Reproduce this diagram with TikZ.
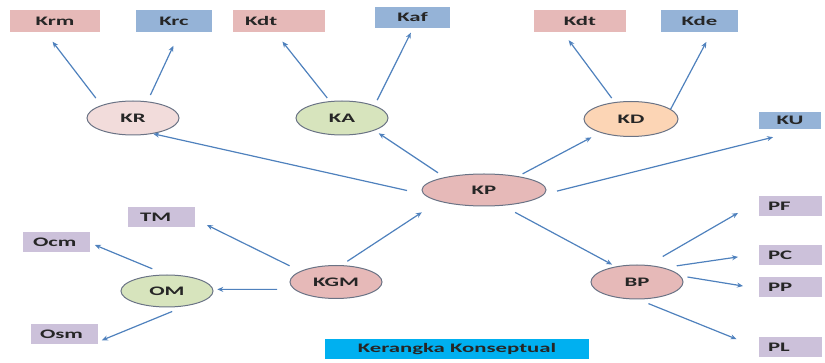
\documentclass[tikz,border=0pt]{standalone}
\usepackage{fontspec}
\setmainfont{Carlito}[FakeStretch=1.75]
\usetikzlibrary{shapes,arrows.meta}

\definecolor{boxpink}{RGB}{230,185,184}
\definecolor{boxblue}{RGB}{149,179,215}
\definecolor{boxlila}{RGB}{204,193,218}
\definecolor{boxcyan}{RGB}{0,176,240}
\definecolor{elpink}{RGB}{242,220,219}
\definecolor{elgreen}{RGB}{215,228,189}
\definecolor{elorange}{RGB}{252,213,181}
\definecolor{elrose}{RGB}{230,185,184}
\definecolor{rim}{RGB}{106,115,133}
\definecolor{arrowblue}{RGB}{79,129,189}

\begin{document}
\begin{tikzpicture}[x=1pt, y=-1pt, font=\fontsize{13}{15}\selectfont\bfseries, text=black!85]
\tikzstyle{el}=[ellipse, draw=rim, line width=1pt, minimum width=92pt, minimum height=34pt, inner sep=0pt]
\tikzstyle{bx}=[rectangle, minimum height=22pt, inner sep=0pt]
\tikzstyle{lbx}=[rectangle, fill=boxlila, minimum height=20pt, inner ysep=0pt, inner xsep=9pt, text width=45pt, align=left]
\tikzstyle{ar}=[-{Stealth[length=6pt,width=5pt]}, color=arrowblue, line width=1.2pt]
\useasboundingbox (0,0) rectangle (825,363);

% top boxes
\node[bx, fill=boxpink, minimum width=90pt] (Krm) at (55,21) {Krm};
\node[bx, fill=boxblue, minimum width=76pt] (Krc) at (174,21) {Krc};
\node[bx, fill=boxpink, text width=68pt, inner xsep=12pt, align=left] (KdtA) at (279,21) {Kdt};
\node[bx, fill=boxblue, minimum width=75pt, minimum height=21pt] (Kaf) at (412.5,17.5) {Kaf};
\node[bx, fill=boxpink, minimum width=92pt] (KdtD) at (580,21) {Kdt};
\node[bx, fill=boxblue, minimum width=77pt] (Kde) at (699.5,21) {Kde};
\node[bx, fill=boxblue, minimum width=62pt, minimum height=17pt] (KU) at (790,120.5) {KU};

% ellipses
\node[el, fill=elpink] (KR) at (133,118) {KR};
\node[el, fill=elgreen] (KA) at (342,118) {KA};
\node[el, fill=elorange, minimum width=94pt, minimum height=35pt] (KD) at (631,119) {KD};
\node[el, fill=elrose, minimum width=124pt, minimum height=32pt] (KP) at (484,190) {KP};
\node[el, fill=elrose, minimum height=33pt] (KGM) at (336,282) {KGM};
\node[el, fill=elgreen, minimum height=32pt] (OM) at (167,291) {OM};
\node[el, fill=elrose] (BP) at (637,282) {BP};

% lilac boxes
\node[lbx, text width=43pt, inner xsep=12pt] (TM) at (161.5,217.5) {TM};
\node[lbx, text width=47pt, inner xsep=10pt] (Ocm) at (56.5,242.5) {Ocm};
\node[lbx, text width=49pt] (Osm) at (64.5,334) {Osm};
\node[lbx] (PF) at (790.5,206) {PF};
\node[lbx] (PC) at (790.5,255) {PC};
\node[lbx] (PP) at (790.5,287.5) {PP};
\node[lbx] (PL) at (790.5,347) {PL};

\node[bx, fill=boxcyan, minimum width=264pt, minimum height=20pt] (judul) at (457,349) {Kerangka Konseptual};

\path[ar]
(KR.158)  edge[shorten <=9pt, shorten >=12pt]  (Krm.229)
(KR.49)   edge[shorten <=7pt, shorten >=15pt]  (Krc.297)
(KA.126)  edge[shorten <=4pt, shorten >=12pt]  (KdtA.250)
(KA.21)   edge[shorten <=6pt, shorten >=5pt]   (Kaf.273)
(KD.134)  edge[shorten <=5pt, shorten >=10pt]  (KdtD.213)
(KD.14)   edge[shorten >=11pt]                 (Kde.317)
(KP.184)  edge[shorten <=17pt]                 (KR.322)
(KP.162)  edge[shorten <=8pt, shorten >=5pt]   (KA.339)
(KP.22)   edge[shorten <=5pt, shorten >=10pt]  (KD.204)
(KP.356)  edge[shorten <=13pt, shorten >=33pt] (KU.330)
(KP.320)  edge[shorten <=14pt, shorten >=4pt]  (BP.144)
(KGM.72)  edge[shorten <=7pt, shorten >=20pt]  (KP.194)
(KGM.163) edge[shorten <=12pt, shorten >=13pt] (TM.357)
(KGM.190) edge[shorten <=17pt, shorten >=4pt]  (OM.2)
(OM.93)   edge[shorten <=15pt, shorten >=5pt]  (Ocm.359)
(OM.320)  edge[shorten <=14pt, shorten >=4pt]  (Osm.347)
(BP.57)   edge[shorten <=17pt, shorten >=24pt] (PF.171)
(BP.28)   edge[shorten <=13pt, shorten >=21pt] (PC.178)
(BP.8)    edge[shorten <=7pt, shorten >=16pt]  (PP.182)
(BP.274)  edge[shorten <=11pt, shorten >=24pt] (PL.182);
\end{tikzpicture}
\end{document}
